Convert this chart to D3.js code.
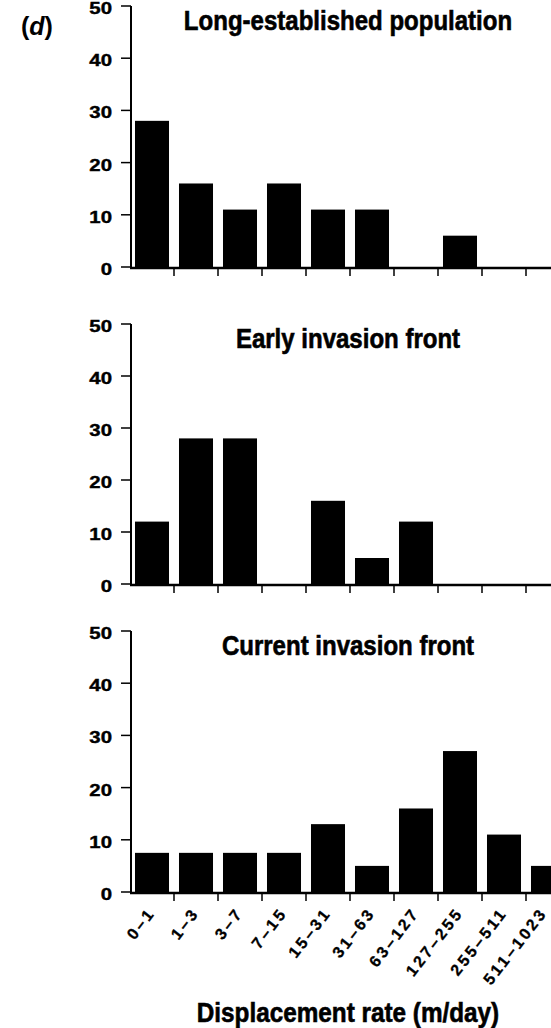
<!DOCTYPE html>
<html>
<head>
<meta charset="utf-8">
<script src="https://cdn.jsdelivr.net/npm/d3@7"></script>
<style>
  html, body { margin: 0; padding: 0; background: #fff; }
  svg { display: block; }
  text { font-family: "Liberation Sans", Arial, sans-serif; font-weight: bold; fill: #000; }
  text.heavy { stroke: #000; stroke-width: 0.6px; }
</style>
</head>
<body>
<svg id="chart" width="551" height="1028"></svg>
<script>
// Displacement-rate classes (m/day)
const categories = ["0–1", "1–3", "3–7", "7–15", "15–31", "31–63", "63–127", "127–255", "255–511", "511–1023"];

// Percentage of individuals in each class
const longEstablished = [28, 16, 11, 16, 11, 11, 0, 6, 0, 0];
const earlyFront = [12, 28, 28, 0, 16, 5, 12, 0, 0, 0];
const currentFront = [7.5, 7.5, 7.5, 7.5, 13, 5, 16, 27, 11, 5];

const panelTitles = ["Long-established population", "Early invasion front", "Current invasion front"];
const yTicks = [0, 10, 20, 30, 40, 50];
const xTitle = "Displacement rate (m/day)";

const svg = d3.select("#chart");
const W = 551;

// vertical extent of each panel: pixel rows for 0 % and 50 %
const panels = [
  { title: panelTitles[0], values: longEstablished, y0: 267, y1: 6 },
  { title: panelTitles[1], values: earlyFront,      y0: 584, y1: 324 },
  { title: panelTitles[2], values: currentFront,    y0: 892, y1: 631 }
];

const axisX = 131;
const x = d3.scaleBand()
  .domain(categories)
  .range([130, 570])
  .paddingInner(0.227)
  .paddingOuter(0.1135);

panels.forEach((p, i) => {
  const y = d3.scaleLinear().domain([0, 50]).range([p.y0, p.y1]);
  const g = svg.append("g");

  // bars
  g.selectAll("rect.bar")
    .data(p.values.map((v, k) => ({ cat: categories[k], v })))
    .join("rect")
    .attr("class", "bar")
    .attr("x", d => x(d.cat))
    .attr("width", x.bandwidth())
    .attr("y", d => y(d.v))
    .attr("height", d => y(0) - y(d.v))
    .attr("fill", "#000");

  // y axis: line, ticks, labels
  g.append("line")
    .attr("x1", axisX).attr("x2", axisX)
    .attr("y1", y(50)).attr("y2", y(0) + 1)
    .attr("stroke", "#000").attr("stroke-width", 2);
  g.selectAll("line.ytick")
    .data(yTicks)
    .join("line")
    .attr("class", "ytick")
    .attr("x1", axisX - 10).attr("x2", axisX)
    .attr("y1", d => y(d)).attr("y2", d => y(d))
    .attr("stroke", "#000").attr("stroke-width", 1.5);
  g.selectAll("text.ylab")
    .data(yTicks)
    .join("text")
    .attr("class", "ylab heavy")
    .attr("transform", d => `translate(112,${y(d) + 2}) scale(1.2,1)`)
    .attr("dy", "0.35em")
    .attr("text-anchor", "end")
    .attr("font-size", 17)
    .style("stroke-width", "0.4px")
    .text(d => d);

  // x axis line + ticks between classes
  g.append("line")
    .attr("x1", axisX - 1).attr("x2", W)
    .attr("y1", y(0) + 1).attr("y2", y(0) + 1)
    .attr("stroke", "#000").attr("stroke-width", 2.5);
  g.selectAll("line.xtick")
    .data(categories.slice(1))
    .join("line")
    .attr("class", "xtick")
    .attr("x1", d => x(d) - x.step() * x.paddingInner() / 2)
    .attr("x2", d => x(d) - x.step() * x.paddingInner() / 2)
    .attr("y1", y(0) + 1).attr("y2", y(0) + 9)
    .attr("stroke", "#000").attr("stroke-width", 1.5);

  // panel title
  g.append("text")
    .attr("class", "heavy")
    .attr("transform", `translate(348,${p.y1 + 24}) scale(0.89,1)`)
    .attr("text-anchor", "middle")
    .attr("font-size", 27)
    .text(p.title);

  // class labels under the bottom panel only (kept inside the right edge)
  if (i === panels.length - 1) {
    g.selectAll("text.xlab")
      .data(categories)
      .join("text")
      .attr("class", "xlab heavy")
      .attr("transform", d => {
        const ax = Math.min(x(d) + x.bandwidth() / 2 + 4, W - 3);
        return `translate(${ax},${y(0) + 21}) rotate(-52)`;
      })
      .attr("text-anchor", "end")
      .attr("font-size", 16)
      .attr("letter-spacing", 2.8)
      .style("stroke-width", "0.3px")
      .text(d => d);
  }
});

// panel letter
const lab = svg.append("text").attr("x", 21).attr("y", 35).attr("font-size", 25);
lab.append("tspan").text("(");
lab.append("tspan").attr("font-style", "italic").text("d");
lab.append("tspan").text(")");

// x axis title
svg.append("text")
  .attr("class", "heavy")
  .attr("transform", "translate(348,1022) scale(0.9,1)")
  .attr("text-anchor", "middle")
  .attr("font-size", 27)
  .text(xTitle);
</script>
</body>
</html>
